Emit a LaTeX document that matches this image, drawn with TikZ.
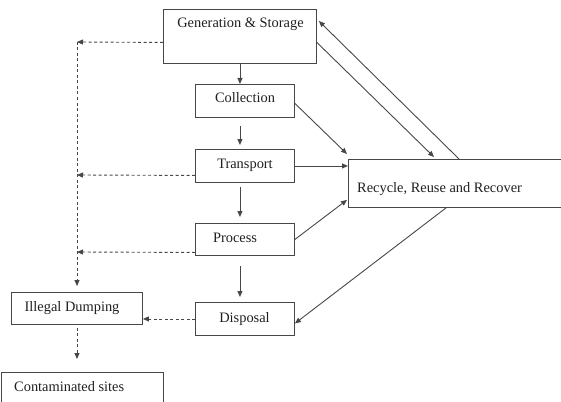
\documentclass[tikz,border=0pt]{standalone}
\usepackage{fontspec}
\setmainfont{Liberation Serif}
\usetikzlibrary{arrows.meta}
\begin{document}
\begin{tikzpicture}[x=1pt,y=-1pt,
  box/.style={draw=black!72,line width=0.9pt,inner sep=0pt,anchor=north west},
  lbl/.style={inner sep=0pt,text=black!88,font=\fontsize{14.4}{17}\selectfont},
  arr/.style={draw=black!72,line width=0.9pt,-{Triangle[length=6pt,width=5pt]}},
  darr/.style={arr,dash pattern=on 3pt off 2.5pt}]
\useasboundingbox (0,0) rectangle (561,401);
% boxes
\node[box,minimum width=153pt,minimum height=54pt] (gen) at (163,9) {};
\node[box,minimum width=99pt,minimum height=33pt] (coll) at (195,84) {};
\node[box,minimum width=99pt,minimum height=33pt] (trans) at (195,149) {};
\node[box,minimum width=99pt,minimum height=32pt] (proc) at (195,223) {};
\node[box,minimum width=99pt,minimum height=33pt] (disp) at (195,302) {};
\node[box,minimum width=240pt,minimum height=48pt] (rec) at (348,159) {};
\node[box,minimum width=131pt,minimum height=32pt] (ill) at (11,292) {};
\node[box,minimum width=162pt,minimum height=45pt] (cont) at (1,372) {};
% texts
\node[lbl,anchor=base] (tgen) at (240.5,28) {Generation \& Storage};
\node[lbl,anchor=base] (tcoll) at (245,102.5) {Collection};
\node[lbl,anchor=base] (ttrans) at (245,168) {Transport};
\node[lbl,anchor=base] (tproc) at (235,242) {Process};
\node[lbl,anchor=base] (tdisp) at (244.5,322) {Disposal};
\node[lbl,anchor=base] (till) at (72,311) {Illegal Dumping};
\node[lbl,anchor=base west] (trec) at (357,192) {Recycle, Reuse and Recover};
\node[lbl,anchor=base west] (tcont) at (14,391) {Contaminated sites};
% coordinates for dashed branch line
\coordinate (vt) at (77,42);
\coordinate (dt) at (77,175);
\coordinate (dp) at (77,252);
% main vertical flow
\draw[arr] (gen.south) -- (gen.south |- coll.north);
\draw[arr,shorten <=8pt,shorten >=4pt] (gen.south |- coll.south) -- (gen.south |- trans.north);
\draw[arr,shorten <=4pt,shorten >=6pt] (gen.south |- trans.south) -- (gen.south |- proc.north);
\draw[arr,shorten <=10pt,shorten >=5pt] (gen.south |- proc.south) -- (gen.south |- disp.north);
% to recycle
\draw[arr] ([yshift=-2.5pt]coll.east) -- ([xshift=-1pt,yshift=5pt]rec.north west);
\draw[arr] (trans.east) -- (trans.east -| rec.west);
\draw[arr] (proc.east) -- ([xshift=-1pt,yshift=8pt]rec.south west);
\draw[arr] ([yshift=-6pt]gen.east) -- ([xshift=86pt,yshift=2pt]rec.north west);
\draw[arr] ([xshift=111pt]rec.north west) -- ([xshift=2pt,yshift=-12pt]gen.north east);
\draw[arr] ([xshift=98pt]rec.south west) -- ([yshift=-4.5pt]disp.east);
% dashed branch
\draw[darr] ([yshift=-6pt]gen.west) -- (vt);
\draw[darr] ([yshift=-9.5pt]trans.west) -- (dt);
\draw[darr] ([yshift=-13pt]proc.west) -- (dp);
\draw[darr,shorten >=6pt] (vt) -- (vt |- ill.north);
\draw[darr] (disp.west) -- (disp.west -| ill.east);
\draw[darr,shorten <=3pt,shorten >=13pt] (vt |- ill.south) -- (vt |- cont.north);
\end{tikzpicture}
\end{document}
